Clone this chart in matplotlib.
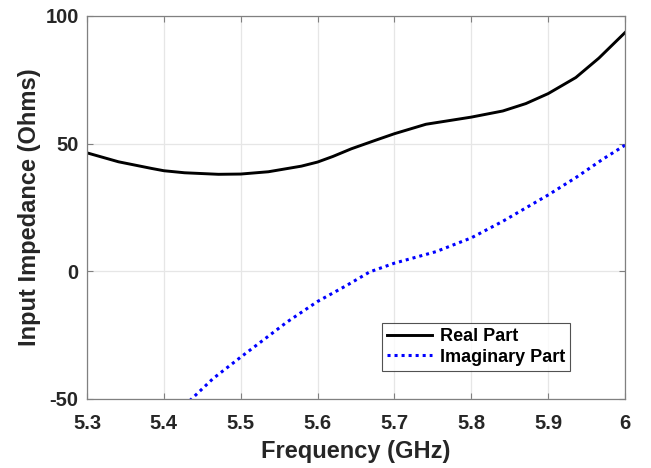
import matplotlib.pyplot as plt

plt.rcParams['font.family'] = ['Liberation Sans', 'DejaVu Sans']
plt.rcParams['font.weight'] = 'bold'
plt.rcParams['axes.unicode_minus'] = False

# values
real_freq = [5.300, 5.341, 5.384, 5.400, 5.427, 5.471, 5.500, 5.536, 5.579,
             5.600, 5.620, 5.644, 5.676, 5.700, 5.741, 5.800, 5.841, 5.871,
             5.900, 5.936, 5.966, 6.000]
real_part = [46.4, 42.9, 40.3, 39.4, 38.6, 38.0, 38.1, 39.0, 41.2,
             42.8, 45.0, 48.0, 51.4, 53.9, 57.6, 60.4, 62.8, 65.7,
             69.6, 75.9, 83.5, 93.5]

imag_freq = [5.400, 5.436, 5.464, 5.500, 5.529, 5.560, 5.600, 5.638, 5.668,
             5.700, 5.754, 5.800, 5.841, 5.900, 5.937, 5.971, 6.000]
imag_part = [-60.0, -50.0, -42.0, -33.6, -27.0, -19.9, -11.8, -5.5, -0.2,
             3.2, 7.7, 13.1, 19.6, 29.9, 36.9, 43.9, 49.4]

x_ticks = [5.3, 5.4, 5.5, 5.6, 5.7, 5.8, 5.9, 6.0]
x_labels = ['5.3', '5.4', '5.5', '5.6', '5.7', '5.8', '5.9', '6']
y_ticks = [-50, 0, 50, 100]

fig = plt.figure(figsize=(6.51, 4.68), dpi=100)
ax = fig.add_axes([87 / 651, 1 - 399 / 468, 538 / 651, 383 / 468])

ax.plot(real_freq, real_part, color='black', linewidth=2.1, label='Real Part')
ax.plot(imag_freq, imag_part, color='#0000ff', linewidth=2.2,
        linestyle=(0, (1, 1.3)), label='Imaginary Part')

ax.set_xlim(5.3, 6.0)
ax.set_ylim(-50, 100)
ax.set_xticks(x_ticks)
ax.set_xticklabels(x_labels)
ax.set_yticks(y_ticks)
ax.grid(True, color='#e6e6e6', linewidth=0.9)
ax.set_axisbelow(True)
ax.tick_params(direction='in', top=True, right=True, length=4,
               color='#808080', labelsize=14.5, labelcolor='#262626')
ax.tick_params(axis='x', pad=11)
ax.tick_params(axis='y', pad=6)
for s in ax.spines.values():
    s.set_color('#808080')
    s.set_linewidth(0.9)

ax.set_xlabel('Frequency (GHz)', fontsize=17, fontweight='bold',
              color='#262626', labelpad=5)
ax.set_ylabel('Input Impedance (Ohms)', fontsize=17, fontweight='bold',
              color='#262626', labelpad=3)

leg = ax.legend(loc='lower left', bbox_to_anchor=(0.548, 0.073),
                fontsize=13, frameon=True, fancybox=False, borderpad=0.3,
                handlelength=2.5, handletextpad=0.4, labelspacing=0.2,
                borderaxespad=0)
leg.get_frame().set_edgecolor('#262626')
leg.get_frame().set_linewidth(0.8)

fig.savefig('out.png', dpi=100)
